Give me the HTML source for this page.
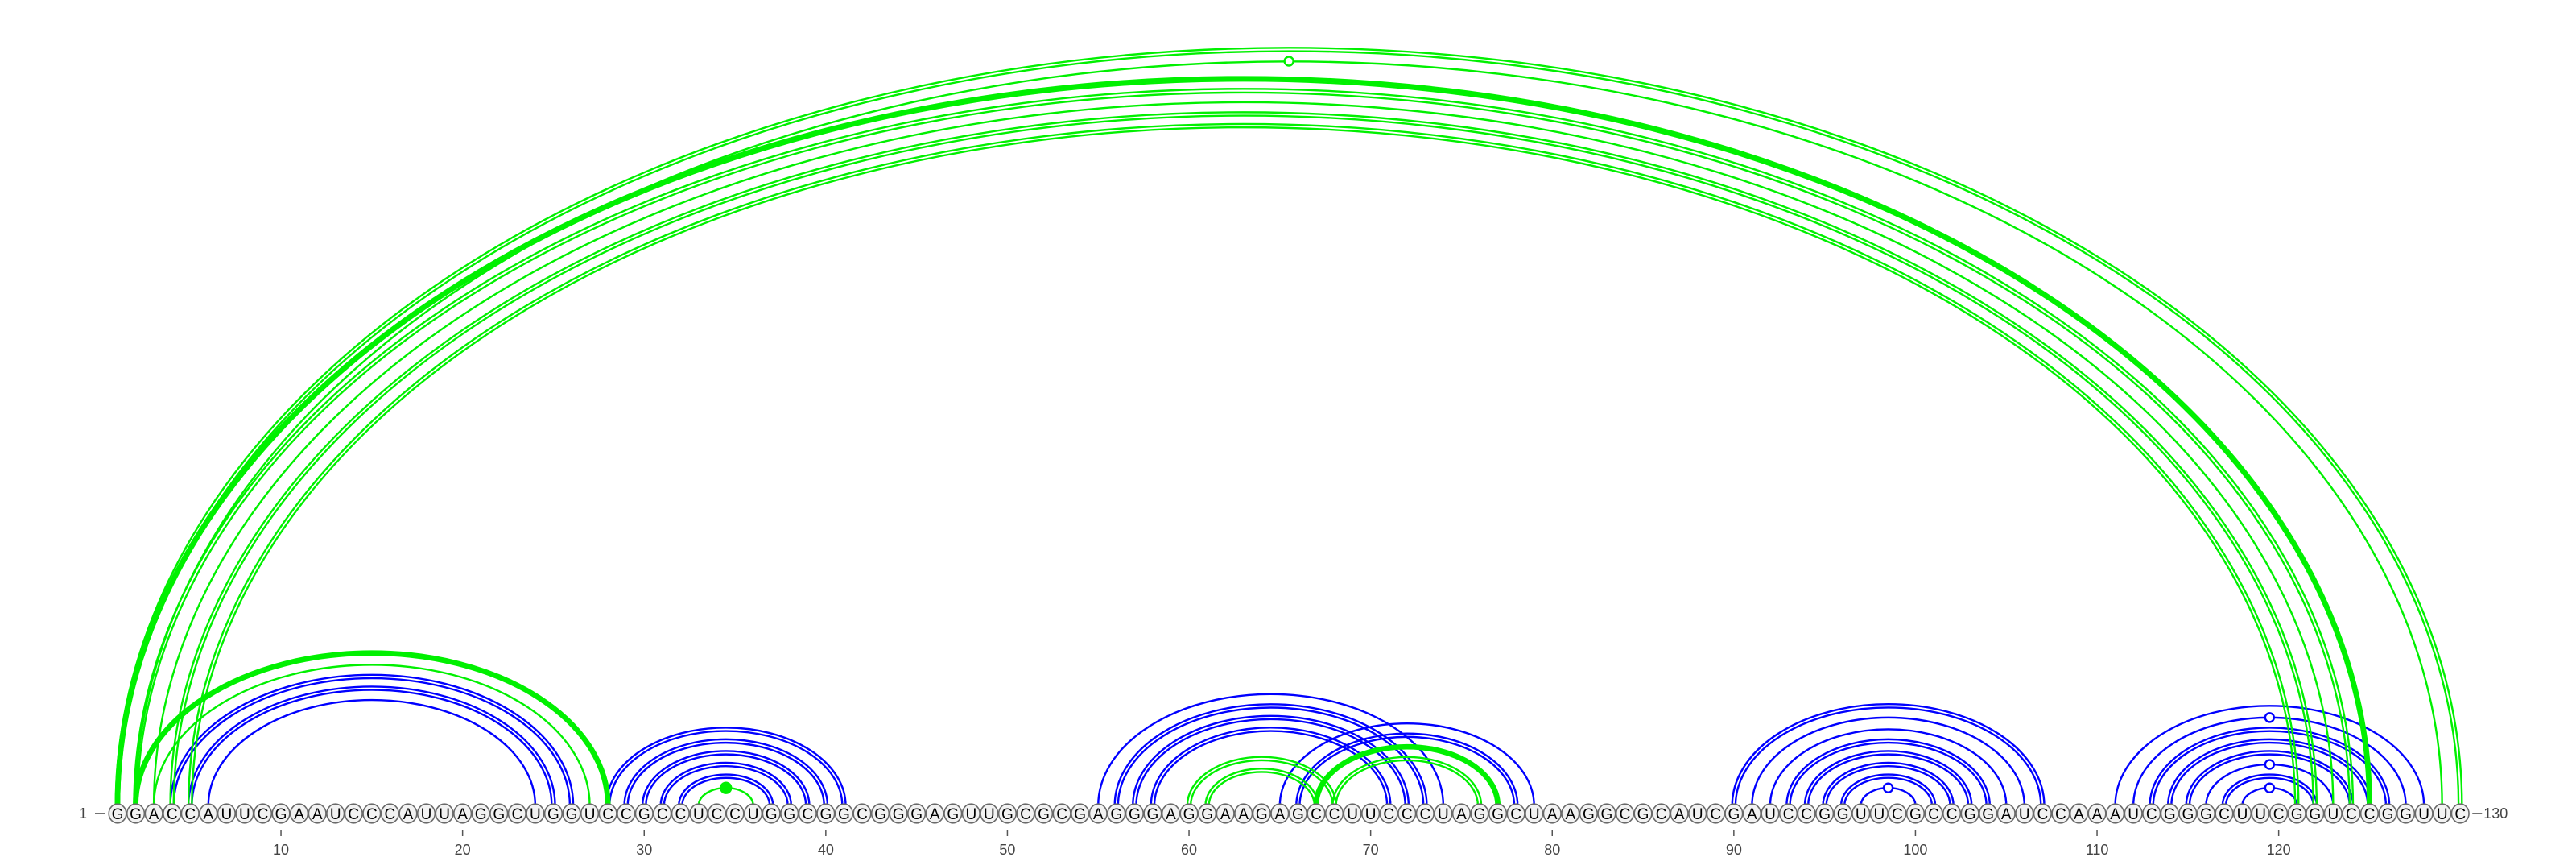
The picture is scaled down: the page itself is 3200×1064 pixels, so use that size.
<!DOCTYPE html>
<html><head><meta charset="utf-8"><title>RNA arc diagram</title>
<style>
html,body{margin:0;padding:0;background:#fff;width:3200px;height:1064px;overflow:hidden}
svg{display:block}
</style></head>
<body>
<svg id="chart" width="3200" height="1064" viewBox="0 0 3200 1064" xmlns="http://www.w3.org/2000/svg">
<g id="arcs"></g>
<g id="nts"></g>
<g id="axis"></g>
</svg>
<script>
// ---- data ----
const sequenceBlocks = ["GGACCAUUCG","AAUCCCAUUA","GGCUGGUCCG","CCUCCUGGCG","GCGGGAGUUG","CGCGAGGGAG","GAAGAGCCUU","CCCUAGGCUA","AGGCGCAUCG","AUCCGGUUCG","CCGGAUCCAA","AUCGGGCUUC","GGUCCGGUUC"];
const sequence = sequenceBlocks.join("");
const tickPositions = [10,20,30,40,50,60,70,80,90,100,110,120];
// green structure pairs: [i, j, lineCount]
const greenPairs = [
  [1,130,2],[2,129,1],[1,125,3],[2,124,2],[3,123,1],[4,122,2],[5,121,2],
  [2,28,3],[3,27,1],[33,36,1],[60,68,2],[61,67,2],[67,77,3],[68,76,2]
];
// blue structure pairs: [i, j, lineCount]
const bluePairs = [
  [4,26,2],[5,25,2],[6,24,1],
  [28,41,2],[29,40,2],[30,39,2],[31,38,2],[32,37,2],
  [55,74,1],[56,73,2],[57,72,2],[58,71,2],[65,79,1],[66,78,2],
  [90,107,2],[91,106,1],[92,105,1],[93,104,2],[94,103,2],[95,102,2],[96,101,2],[97,100,1],
  [111,128,1],[112,127,1],[113,126,2],[114,125,2],[115,124,2],[116,123,1],[117,122,2],[118,121,1]
];
// markers at arc apex: [i, j, color, filled]
const markerPairs = [[2,129,"green",false],[33,36,"green",true],[97,100,"blue",false],[112,127,"blue",false],[116,123,"blue",false],[118,121,"blue",false]];

// ---- scales ----
const X0 = 146, STEP = 22.56, BASE = 1000, NTY = 1010, RATIO = 0.645;
const COLORS = {green:"#00f000", blue:"#0000ff"};
function xPos(i){ return X0 + (i-1)*STEP; }
const NS = "http://www.w3.org/2000/svg";
const arcsG = document.getElementById('arcs');
const ntG = document.getElementById('nts');
const axG = document.getElementById('axis');

function drawPairs(pairs, color){
  pairs.forEach(p => {
    const i=p[0], j=p[1], n=p[2];
    const x1=xPos(i), x2=xPos(j);
    const rx=(x2-x1)/2;
    const offs = n===1 ? [0] : (n===2 ? [-2.1,2.1] : [-2.2,-0.6,1.0,2.4]);
    offs.forEach(o => {
      const r = rx + o, ry = rx*RATIO + o;
      const path = document.createElementNS(NS,'path');
      path.setAttribute('d', `M ${x1+rx-r} ${BASE} A ${r} ${ry} 0 0 1 ${x1+rx+r} ${BASE}`);
      path.setAttribute('fill','none');
      path.setAttribute('stroke', COLORS[color]);
      path.setAttribute('stroke-width', n===3 ? '2.2' : '2.4');
      
      
      arcsG.appendChild(path);
    });
  });
}
drawPairs(bluePairs, "blue");
drawPairs(greenPairs, "green");

markerPairs.forEach(m => {
  const x1=xPos(m[0]), x2=xPos(m[1]);
  const rx=(x2-x1)/2;
  const c = document.createElementNS(NS,'circle');
  c.setAttribute('cx', x1+rx);
  c.setAttribute('cy', BASE - rx*RATIO);
  c.setAttribute('r', m[3] ? 6.5 : 5.5);
  c.setAttribute('fill', m[3] ? COLORS[m[2]] : '#fff');
  c.setAttribute('stroke', COLORS[m[2]]);
  c.setAttribute('stroke-width', '2.4');
  
  
  arcsG.appendChild(c);
});

// nucleotides
for (let k=0; k<sequence.length; k++){
  const x = xPos(k+1);
  const e = document.createElementNS(NS,'ellipse');
  e.setAttribute('cx', x); e.setAttribute('cy', NTY);
  e.setAttribute('rx', 10.8); e.setAttribute('ry', 11.8);
  e.setAttribute('fill', '#f2f2f2'); e.setAttribute('stroke', '#6a6a6a'); e.setAttribute('stroke-width','1.6');
  
  
  ntG.appendChild(e);
  const t = document.createElementNS(NS,'text');
  t.setAttribute('x', x); t.setAttribute('y', NTY+7);
  t.setAttribute('text-anchor','middle');
  t.setAttribute('font-family','"Liberation Sans", sans-serif');
  t.setAttribute('font-size','19');
  t.setAttribute('fill','#000');
  t.textContent = sequence[k];
  
  
  ntG.appendChild(t);
}

// axis ticks
tickPositions.forEach(p => {
  const x = xPos(p);
  const l = document.createElementNS(NS,'line');
  l.setAttribute('x1', x); l.setAttribute('x2', x);
  l.setAttribute('y1', 1030); l.setAttribute('y2', 1038);
  l.setAttribute('stroke','#555'); l.setAttribute('stroke-width','1.5');
  
  
  axG.appendChild(l);
  const t = document.createElementNS(NS,'text');
  t.setAttribute('x', x); t.setAttribute('y', 1061);
  t.setAttribute('text-anchor','middle');
  t.setAttribute('font-family','"Liberation Sans", sans-serif');
  t.setAttribute('font-size','18');
  t.setAttribute('fill','#444');
  t.textContent = String(p);
  
  
  axG.appendChild(t);
});

// end labels
const startLbl = document.createElementNS(NS,'text');
startLbl.setAttribute('x', 108); startLbl.setAttribute('y', NTY+6);
startLbl.setAttribute('text-anchor','end');
startLbl.setAttribute('font-family','"Liberation Sans", sans-serif');
startLbl.setAttribute('font-size','18'); startLbl.setAttribute('fill','#444');
startLbl.textContent = '1';


axG.appendChild(startLbl);
const sd = document.createElementNS(NS,'line');
sd.setAttribute('x1', 118); sd.setAttribute('x2', 130); sd.setAttribute('y1', NTY); sd.setAttribute('y2', NTY);
sd.setAttribute('stroke','#444'); sd.setAttribute('stroke-width','1.5');


axG.appendChild(sd);
const xe = xPos(sequence.length);
const ed = document.createElementNS(NS,'line');
ed.setAttribute('x1', xe+15); ed.setAttribute('x2', xe+27); ed.setAttribute('y1', NTY); ed.setAttribute('y2', NTY);
ed.setAttribute('stroke','#444'); ed.setAttribute('stroke-width','1.5');


axG.appendChild(ed);
const endLbl = document.createElementNS(NS,'text');
endLbl.setAttribute('x', xe+29); endLbl.setAttribute('y', NTY+6);
endLbl.setAttribute('font-family','"Liberation Sans", sans-serif');
endLbl.setAttribute('font-size','18'); endLbl.setAttribute('fill','#444');
endLbl.textContent = String(sequence.length);


axG.appendChild(endLbl);
</script>
</body></html>
